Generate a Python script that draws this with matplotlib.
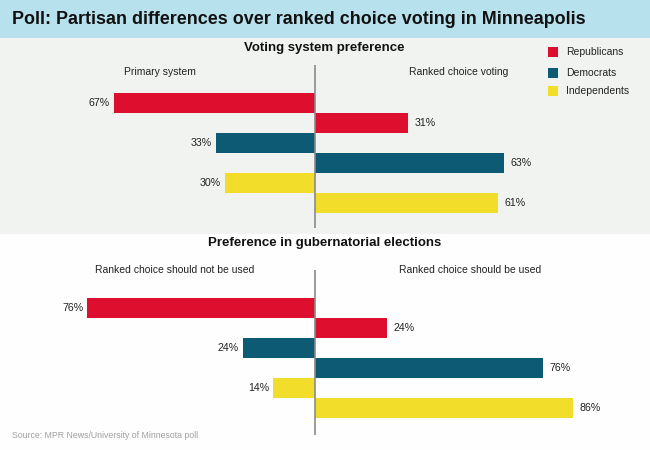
import matplotlib
matplotlib.use("Agg")
import matplotlib.pyplot as plt
from matplotlib.patches import Rectangle

plt.rcParams['font.family'] = ['Liberation Sans', 'DejaVu Sans']

parties = ['Republicans', 'Democrats', 'Independents']
colors = ['#de0f2e', '#0c5a73', '#f2de2a']
primary_system = [67, 33, 30]
ranked_choice = [31, 63, 61]
rc_not_used = [76, 24, 14]
rc_used = [24, 76, 86]

title = "Poll: Partisan differences over ranked choice voting in Minneapolis"
panel1_title = "Voting system preference"
panel1_left, panel1_right = "Primary system", "Ranked choice voting"
panel2_title = "Preference in gubernatorial elections"
panel2_left, panel2_right = "Ranked choice should not be used", "Ranked choice should be used"
source = "Source: MPR News/University of Minnesota poll"

W, H = 650, 450
fig = plt.figure(figsize=(6.5, 4.5), dpi=100)
fig.patch.set_facecolor('#fdfefd')

def fx(px):
    return px / W

def fy(py):
    return 1 - py / H

# title bar
fig.add_artist(Rectangle((0, fy(38)), 1, 38 / H, transform=fig.transFigure,
                         facecolor='#b7e1ed', edgecolor='none', zorder=0))
fig.text(fx(12), fy(19), title, fontsize=12.85, fontweight='bold', color='#111111',
         ha='left', va='center')

def panel(top_px, bot_px, first_row_px, left_vals, right_vals, line_top, line_bot, bg):
    ax = fig.add_axes([0, fy(bot_px), 1, (bot_px - top_px) / H])
    ax.set_facecolor(bg)
    xmin = -315 / 3.0
    xmax = (W - 315) / 3.0
    ax.set_xlim(xmin, xmax)
    ax.set_ylim((bot_px - first_row_px) / 20.0, (top_px - first_row_px) / 20.0)
    for i, (lv, rv) in enumerate(zip(left_vals, right_vals)):
        yl = 2 * i
        yr = 2 * i + 1
        ax.barh(yl, -lv, height=1.0, left=0, color=colors[i], edgecolor='none')
        ax.barh(yr, rv, height=1.0, left=0, color=colors[i], edgecolor='none')
        ax.text(-lv - 1.3, yl, f"{lv}%", ha='right', va='center', fontsize=7.7, color='#222222')
        ax.text(rv + 2.3, yr, f"{rv}%", ha='left', va='center', fontsize=7.7, color='#222222')
    ax.vlines(0, (line_top - first_row_px) / 20.0, (line_bot - first_row_px) / 20.0,
              color='#8a8a8a', linewidth=1.2)
    ax.axis('off')
    ax.add_patch(Rectangle((0, 0), 1, 1, transform=ax.transAxes, facecolor=bg,
                           edgecolor='none', zorder=-5))
    return ax

panel(38, 234, 103, primary_system, ranked_choice, 65, 228, '#f1f3f1')
panel(234, 450, 308, rc_not_used, rc_used, 270, 435, '#fdfefd')

fig.text(fx(324), fy(48), panel1_title, fontsize=9.5, fontweight='bold', color='#111111',
         ha='center', va='center')
fig.text(fx(160), fy(72), panel1_left, fontsize=7.5, color='#222222', ha='center', va='center')
fig.text(fx(459), fy(72), panel1_right, fontsize=7.5, color='#222222', ha='center', va='center')

fig.text(fx(325), fy(243), panel2_title, fontsize=9.5, fontweight='bold', color='#111111',
         ha='center', va='center')
fig.text(fx(175), fy(270), panel2_left, fontsize=7.5, color='#222222', ha='center', va='center')
fig.text(fx(470), fy(270), panel2_right, fontsize=7.5, color='#222222', ha='center', va='center')

# legend
leg_y = [52, 73, 91]
for name, c, y in zip(parties, colors, leg_y):
    fig.add_artist(Rectangle((fx(548), fy(y + 5)), 10 / W, 10 / H, transform=fig.transFigure,
                             facecolor=c, edgecolor='none'))
    fig.text(fx(566), fy(y), name, fontsize=7.5, color='#222222', ha='left', va='center')

fig.text(fx(12), fy(436), source, fontsize=6.3, color='#a0a0a0', ha='left', va='center')

fig.savefig('out.png', dpi=100, facecolor=fig.get_facecolor())
